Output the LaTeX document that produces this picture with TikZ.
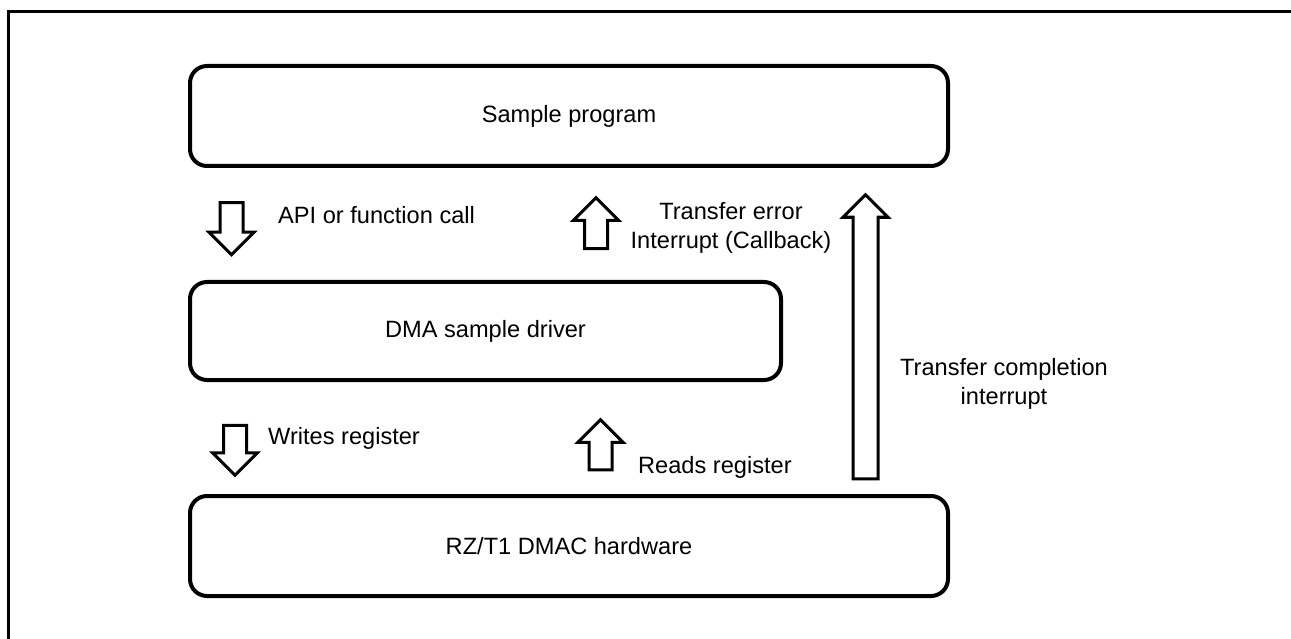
\documentclass[tikz,border=0pt]{standalone}
\usepackage{fontspec}
\setmainfont{Liberation Sans}
\usetikzlibrary{shapes.arrows}

\begin{document}
\begin{tikzpicture}[
    x=1pt, y=-1pt,
    every node/.style={font=\fontsize{23.6}{29}\selectfont},
    box/.style={
      draw,
      line width=4pt,
      rounded corners=17pt,
      align=center,
      minimum height=100pt,
      inner sep=0pt
    },
    blk/.style={
      draw,
      single arrow,
      line width=3pt,
      inner xsep=10pt,
      inner ysep=0pt,
      minimum width=0pt,
      single arrow head extend=11pt,
      single arrow tip angle=90
    },
    blkdown/.style={blk, shape border rotate=270},
    blkup/.style={blk, shape border rotate=90},
    note/.style={align=center, inner sep=0pt}
  ]
    \useasboundingbox (0,0) rectangle (1291,639);

    % Frame (clipped on the right and at the bottom)
    \draw[line width=3pt] (8,640) -- (8,11.5) -- (1292,11.5);

    % Layers
    \node[box, minimum width=758pt] (prog) at (569,116) {Sample program};
    \node[box, minimum width=591pt, minimum height=98pt] (drv) at (485.5,331) {DMA sample driver};
    \node[box, minimum width=758pt] (hw) at (569,546) {RZ/T1 DMAC hardware};

    % Block arrows between the layers
    \node[blkdown, minimum height=52pt] (apiarr) at (231.5,223) {};
    \node[blkup, minimum height=51pt] (errarr) at (596,229) {};
    \node[blkup, minimum height=284pt, inner xsep=11pt, single arrow head extend=10pt] (cmparr) at (865.5,343) {};
    \node[blkdown, minimum height=50pt] (wrarr) at (235,444.5) {};
    \node[blkup, minimum height=50pt] (rdarr) at (600.5,450.5) {};

    % Labels
    \node[note, anchor=base west] (apilbl) at (278,224) {API or function call};
    \node[note] (errlbl) at (731,228) {Transfer error\\Interrupt (Callback)};
    \node[note] (cmplbl) at (1004,384) {Transfer completion\\interrupt};
    \node[note, anchor=base west] (wrlbl) at (268,444) {Writes register};
    \node[note, anchor=base west] (rdlbl) at (638,473) {Reads register};

\end{tikzpicture}
\end{document}
